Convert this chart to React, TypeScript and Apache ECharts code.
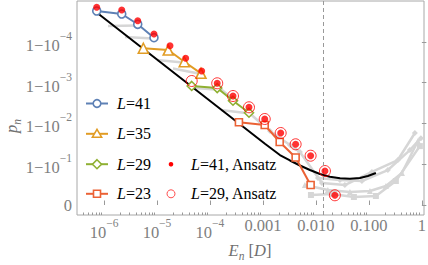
import React, { useEffect, useRef } from 'react';
import * as echarts from 'echarts';

const FONT = '"Liberation Serif", "Times New Roman", serif';

// ---- data: E_n (units of D) and p_n ----
const L41_E = [7.28e-7, 2.16e-6, 4.33e-6, 8.77e-6];
const L41_P = [0.9999824, 0.9999792, 0.9999628, 0.9999207];
const L35_E = [5.52e-6, 1.63e-5, 3.27e-5, 6.76e-5];
const L35_P = [0.999856, 0.999841, 0.999692, 0.999408];
const L29_E = [4.52e-5, 1.37e-4, 2.72e-4, 5.45e-4];
const L29_P = [0.99879, 0.99864, 0.99722, 0.99453];
const L23_E = [3.52e-4, 1.08e-3, 2.07e-3, 4.14e-3, 7.94e-3];
const L23_P = [0.9906, 0.98906, 0.97142, 0.9315, 0.6764];

const ANS41_E = [7.28e-7, 2.16e-6, 4.33e-6, 8.77e-6, 1.76e-5, 3.48e-5, 6.97e-5, 1.37e-4, 2.72e-4, 5.45e-4, 1.08e-3, 2.16e-3, 4.14e-3, 7.94e-3, 1.48e-2, 2.28e-2];
const ANS41_P = [0.9999857, 0.9999834, 0.9999696, 0.9999356, 0.999875, 0.999746, 0.99948, 0.99896, 0.99787, 0.99597, 0.9922, 0.9828, 0.9675, 0.9381, 0.853, 0.422];
const ANS29_E = [4.52e-5, 1.37e-4, 2.72e-4, 5.45e-4, 1.08e-3, 2.16e-3, 4.14e-3, 7.94e-3, 1.48e-2, 2.28e-2];
const ANS29_P = [0.999086, 0.99896, 0.99787, 0.99597, 0.9922, 0.9828, 0.9675, 0.9381, 0.853, 0.422];

const FIT_E = [7.28e-7, 1.09e-3, 2.09e-3, 3.23e-3, 4.99e-3, 7.71e-3, 1.189e-2, 1.836e-2, 2.84e-2, 4.38e-2, 6.76e-2, 9.57e-2, 0.1355];
const FIT_P = [0.9999809, 0.9684, 0.9405, 0.9189, 0.8924, 0.8613, 0.8262, 0.7963, 0.7782, 0.772, 0.782, 0.8055, 0.8356];

// other system sizes (gray)
const G39_E = [1.19e-6, 4.2e-6];
const G39_P = [0.999959, 0.99996];
const G37_E = [2.49e-6, 8.41e-6];
const G37_P = [0.999924, 0.999917];
const G33_E = [1.0e-5, 3.1e-5];
const G33_P = [0.999721, 0.999679];
const G31_E = [2.0e-5, 6.76e-5];
const G31_P = [0.999549, 0.999385];
const G27_E = [5.21e-5, 1.68e-4, 2.84e-4];
const G27_P = [0.99864, 0.99848, 0.99733];
const G25_E = [1.61e-4, 5.69e-4, 1.04e-3];
const G25_P = [0.9953, 0.99428, 0.9884];
const GA_E = [1.36e-3, 3.23e-3, 4.99e-3, 0.01297, 0.0352, 0.114, 0.352, 0.738];
const GA_P = [0.98465, 0.9662, 0.9498, 0.711, 0.676, 0.845, 0.921, 0.9828];
const GB_E = [6.19e-3, 0.01683, 0.0438, 0.1045, 0.2094, 0.42, 0.841];
const GB_P = [0.676, 0.571, 0.52, 0.546, 0.658, 0.836, 0.973];
const GC_E = [8.05e-3, 0.02004, 0.0521, 0.1355, 0.3228, 0.916];
const GC_P = [0.431, 0.463, 0.363, 0.399, 0.742, 0.964];
const GD_E = [0.01091, 0.0284, 0.0738, 0.228, 0.594, 0.957];
const GD_P = [0.782, 0.756, 0.742, 0.861, 0.955, 0.977];

const DASH_E = 0.0139;

// ticks
const X_TICKS = [1e-6, 1e-5, 1e-4, 1e-3, 1e-2, 1e-1, 1];
const X_TICK_LABELS = ['{b|10}{s|−6}', '{b|10}{s|−5}', '{b|10}{s|−4}', '{p|0.001}', '{p|0.010}', '{p|0.100}', '{p|1}'];
const Y_TICKS = [0, 0.9, 0.99, 0.999, 0.9999];
const Y_TICK_LABELS = ['{p|0}', '{b|1−10}{s|−1}', '{b|1−10}{s|−2}', '{b|1−10}{s|−3}', '{b|1−10}{s|−4}'];

const X_MIN = -6.51;
const X_MAX = 0.04;
const Y_MIN = -0.245;
const Y_MAX = 5.0;

const BLUE = '#5E81B5';
const ORANGE = '#E19C24';
const GREEN = '#8FB032';
const RED_ORANGE = '#EB6235';
const RED = '#FF0000';
const GRAY = '#d6d6d6';
const TICK_COLOR = '#808080';

const tx = (e: number) => Math.log10(e);
const ty = (p: number) => -Math.log10(1 - p);
const pts = (E: number[], P: number[]) => E.map((e, i) => [tx(e), ty(P[i])]);

const xMajor = X_TICKS.map(tx);
const xMinor: number[] = [];
for (let n = -7; n <= 0; n++) {
  for (let k = 2; k <= 9; k++) {
    const v = Math.log10(k) + n;
    if (v > X_MIN && v < X_MAX) xMinor.push(v);
  }
}
const yMajor = Y_TICKS.map(ty);

const supRich = {
  b: { fontSize: 16.5, fontFamily: FONT, color: TICK_COLOR, lineHeight: 24, verticalAlign: 'bottom' },
  s: { fontSize: 11.5, fontFamily: FONT, color: TICK_COLOR, lineHeight: 15, verticalAlign: 'top' },
  p: { fontSize: 16.5, fontFamily: FONT, color: TICK_COLOR, lineHeight: 16 },
};

function grayLine(E: number[], P: number[], symbol: string) {
  return {
    type: 'line',
    data: pts(E, P),
    symbol,
    symbolSize: 6,
    itemStyle: { color: GRAY },
    lineStyle: { color: GRAY, width: 2.5 },
    silent: true,
    z: 1,
  };
}

function mainLine(E: number[], P: number[], color: string, symbol: string, size: number) {
  return {
    type: 'line',
    data: pts(E, P),
    symbol,
    symbolSize: size,
    showAllSymbol: true,
    itemStyle: { color: '#fff', borderColor: color, borderWidth: 1.6 },
    lineStyle: { color, width: 2 },
    z: 3,
  };
}

const legendRich = { i: { fontStyle: 'italic', fontSize: 16, fontFamily: FONT, fill: '#000' } };

function legendText(x: number, cy: number, label: string) {
  return {
    type: 'text',
    x,
    y: cy,
    style: { text: label, fill: '#000', fontSize: 16, fontFamily: FONT, verticalAlign: 'middle', align: 'left', rich: legendRich },
  };
}

function legendItem(cy: number, color: string, marker: any, label: string) {
  return [
    { type: 'line', shape: { x1: 86, y1: cy, x2: 108, y2: cy }, style: { stroke: color, lineWidth: 2 } },
    marker,
    legendText(117, cy, label),
  ];
}

export default function App() {
  const ref = useRef<HTMLDivElement>(null);
  useEffect(() => {
    if (!ref.current) return;
    const chart = echarts.init(ref.current, undefined, { renderer: 'svg' });
    const legendGraphics = [
      ...legendItem(103.5, BLUE, { type: 'circle', shape: { cx: 97, cy: 103.5, r: 3.8 }, style: { fill: '#fff', stroke: BLUE, lineWidth: 1.6 } }, '{i|L}=41'),
      ...legendItem(133.8, ORANGE, { type: 'polygon', shape: { points: [[97, 129.3], [101.6, 137.2], [92.4, 137.2]] }, style: { fill: '#fff', stroke: ORANGE, lineWidth: 1.6 } }, '{i|L}=35'),
      ...legendItem(164.2, GREEN, { type: 'polygon', shape: { points: [[97, 159.7], [101.5, 164.2], [97, 168.7], [92.5, 164.2]] }, style: { fill: '#fff', stroke: GREEN, lineWidth: 1.6 } }, '{i|L}=29'),
      ...legendItem(193.8, RED_ORANGE, { type: 'rect', shape: { x: 93.5, y: 190.3, width: 7, height: 7 }, style: { fill: '#fff', stroke: RED_ORANGE, lineWidth: 1.6 } }, '{i|L}=23'),
      { type: 'circle', shape: { cx: 171, cy: 164.2, r: 2.3 }, style: { fill: RED } },
      legendText(191, 164.2, '{i|L}=41, Ansatz'),
      { type: 'circle', shape: { cx: 171, cy: 193.8, r: 4 }, style: { fill: 'none', stroke: '#ff4d4d', lineWidth: 1 } },
      legendText(191, 193.8, '{i|L}=29, Ansatz'),
      // axis names
      {
        type: 'text', x: 13, y: 126, rotation: Math.PI / 2,
        style: {
          text: '{p|p}{n|n}', fill: '#707070', fontFamily: FONT, fontSize: 16, align: 'center', verticalAlign: 'middle',
          rich: {
            p: { fontStyle: 'italic', fontSize: 16.5, fontFamily: FONT, fill: '#707070', lineHeight: 20, verticalAlign: 'top' },
            n: { fontStyle: 'italic', fontSize: 11.5, fontFamily: FONT, fill: '#707070', lineHeight: 12, verticalAlign: 'bottom' },
          },
        },
      },
      {
        type: 'text', x: 250, y: 252,
        style: {
          text: '{e|E}{n|n}{r| [}{e|D}{r|]}', fill: '#707070', fontFamily: FONT, fontSize: 16, align: 'center', verticalAlign: 'middle',
          rich: {
            e: { fontStyle: 'italic', fontSize: 16.5, fontFamily: FONT, fill: '#707070', lineHeight: 20, verticalAlign: 'top' },
            r: { fontSize: 16.5, fontFamily: FONT, fill: '#707070', lineHeight: 20, verticalAlign: 'top' },
            n: { fontStyle: 'italic', fontSize: 11.5, fontFamily: FONT, fill: '#707070', lineHeight: 12, verticalAlign: 'bottom' },
          },
        },
      },
    ];

    const option: any = {
      animation: false,
      backgroundColor: '#fff',
      grid: { left: 77, right: 4, top: 1, bottom: 50, show: true, borderColor: '#a8a8a8', borderWidth: 1, containLabel: false, outerBoundsMode: 'none' },
      xAxis: [
        {
          type: 'value', min: X_MIN, max: X_MAX, position: 'bottom',
          axisLine: { show: false }, splitLine: { show: false },
          axisTick: { show: true, inside: true, length: 4.5, customValues: xMajor, lineStyle: { color: '#999', width: 1 } },
          axisLabel: {
            show: true, customValues: xMajor, margin: 2, color: TICK_COLOR, fontFamily: FONT, fontSize: 16.5,
            formatter: (v: number) => {
              const i = xMajor.findIndex((t) => Math.abs(t - v) < 1e-6);
              return i >= 0 ? X_TICK_LABELS[i] : '';
            },
            rich: supRich,
          },
        },
        {
          type: 'value', min: X_MIN, max: X_MAX, position: 'bottom',
          axisLine: { show: false }, splitLine: { show: false },
          axisTick: { show: true, inside: true, length: 2.5, customValues: xMinor, lineStyle: { color: '#999', width: 1 } },
          axisLabel: { show: false },
        },
      ],
      yAxis: {
        type: 'value', min: Y_MIN, max: Y_MAX,
        axisLine: { show: false }, splitLine: { show: false },
        axisTick: { show: true, inside: true, length: 4.5, customValues: yMajor, lineStyle: { color: '#999', width: 1 } },
        axisLabel: {
          show: true, customValues: yMajor, margin: 5, color: TICK_COLOR, fontFamily: FONT, fontSize: 16.5,
          formatter: (v: number) => {
            const i = yMajor.findIndex((t) => Math.abs(t - v) < 1e-6);
            return i >= 0 ? Y_TICK_LABELS[i] : '';
          },
          rich: supRich,
        },
      },
      series: [
        grayLine(G39_E, G39_P, 'none'),
        grayLine(G37_E, G37_P, 'none'),
        grayLine(G33_E, G33_P, 'none'),
        grayLine(G31_E, G31_P, 'none'),
        grayLine(G27_E, G27_P, 'none'),
        grayLine(G25_E, G25_P, 'none'),
        grayLine(GA_E, GA_P, 'diamond'),
        grayLine(GB_E, GB_P, 'triangle'),
        grayLine(GC_E, GC_P, 'rect'),
        grayLine(GD_E, GD_P, 'diamond'),
        {
          type: 'line',
          data: pts(FIT_E, FIT_P),
          symbol: 'none',
          smooth: false,
          lineStyle: { color: '#000', width: 2 },
          z: 2,
          markLine: {
            silent: true,
            symbol: ['none', 'none'],
            label: { show: false },
            lineStyle: { color: '#999', width: 1, type: [4, 3] },
            data: [{ xAxis: tx(DASH_E) }],
          },
        },
        mainLine(L23_E, L23_P, RED_ORANGE, 'rect', 7),
        mainLine(L29_E, L29_P, GREEN, 'diamond', 9),
        mainLine(L35_E, L35_P, ORANGE, 'triangle', 10),
        mainLine(L41_E, L41_P, BLUE, 'circle', 8),
        {
          type: 'scatter',
          data: pts(ANS29_E, ANS29_P),
          symbol: 'circle',
          symbolSize: 11,
          itemStyle: { color: 'rgba(0,0,0,0)', borderColor: RED, borderWidth: 1 },
          z: 4,
        },
        {
          type: 'scatter',
          data: pts(ANS41_E, ANS41_P),
          symbol: 'circle',
          symbolSize: 7,
          itemStyle: { color: RED },
          z: 5,
        },
      ],
      graphic: legendGraphics,
    };
    chart.setOption(option);
    return () => chart.dispose();
  }, []);
  return <div ref={ref} style={{ position: 'fixed', left: 0, top: 0, width: 428, height: 265, background: '#fff' }} />;
}
